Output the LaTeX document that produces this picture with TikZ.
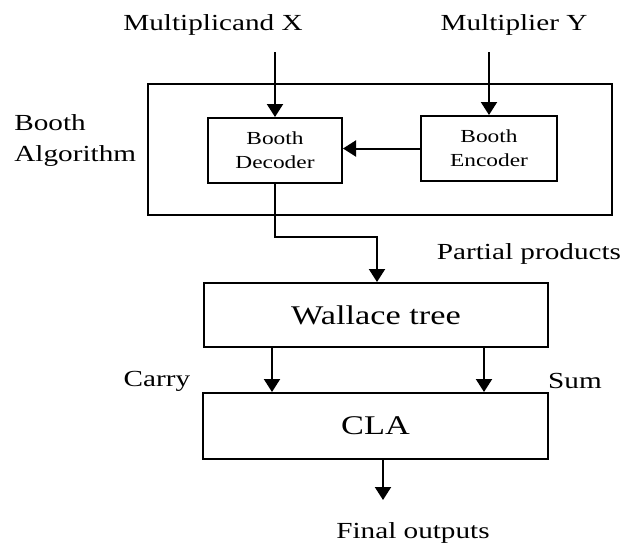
\documentclass[tikz,border=0pt]{standalone}
\usepackage{fontspec}
\setmainfont[FakeStretch=1.27]{Liberation Serif}
\usetikzlibrary{positioning, calc, arrows.meta}

\begin{document}
\begin{tikzpicture}[
    x=0.5pt, y=-0.5pt,
    block/.style={draw=black, line width=1pt, inner sep=0pt, align=center},
    smallblock/.style={block, font=\fontsize{9.2}{11}\selectfont},
    bigblock/.style={block, font=\fontsize{13.5}{16}\selectfont},
    sidelabel/.style={font=\fontsize{11.5}{13.5}\selectfont, inner sep=0pt},
    arrow/.style={line width=1pt, -{Triangle[width=8pt,length=6.5pt]}},
    wire/.style={line width=1pt}
]
\useasboundingbox (0,0) rectangle (633,543);

%=== Booth algorithm block ===
\node[block, minimum width=232pt, minimum height=65.5pt] (booth) at (380,149.5) {};
\node[smallblock, minimum width=67pt, minimum height=32.5pt] (decoder) at (275,150.5)
    {Booth\\[1pt]Decoder};
\node[smallblock, minimum width=68pt, minimum height=32.5pt] (encoder) at (489,148.5)
    {Booth\\[1pt]Encoder};
\node[sidelabel, align=left, anchor=west] (boothlabel) at (14,140)
    {Booth\\[2pt]Algorithm};

% inputs
\node[sidelabel] (xlabel) at (213,25) {Multiplicand X};
\node[sidelabel] (ylabel) at (514,25) {Multiplier Y};
\coordinate (xin) at (275,52);
\coordinate (yin) at (489,52);
\draw[arrow] (xin) -- (decoder.north);
\draw[arrow] (yin) -- (encoder.north);
\draw[arrow] (encoder.west) -- (encoder.west -| decoder.east);

%=== Wallace tree and CLA ===
\node[bigblock, minimum width=172pt, minimum height=32pt] (wallace) at (376,315) {Wallace tree};
\node[bigblock, minimum width=172.5pt, minimum height=33pt] (cla) at (375.5,426) {CLA};

% partial products
\coordinate (pp) at (377,237);
\draw[arrow] (decoder.south) |- (pp) -- (pp |- wallace.north);
\node[sidelabel] (pplabel) at (529,254) {Partial products};

% carry and sum
\coordinate (carry) at (272,347);
\coordinate (sum) at (484,347);
\draw[arrow] (carry) -- (carry |- cla.north);
\draw[arrow] (sum) -- (sum |- cla.north);
\node[sidelabel] (carrylabel) at (157,381) {Carry};
\node[sidelabel] (sumlabel) at (575,381) {Sum};

% output
\coordinate (out) at (383,500);
\draw[arrow] (out |- cla.south) -- (out);
\node[sidelabel] (outlabel) at (413,533) {Final outputs};

\end{tikzpicture}
\end{document}
